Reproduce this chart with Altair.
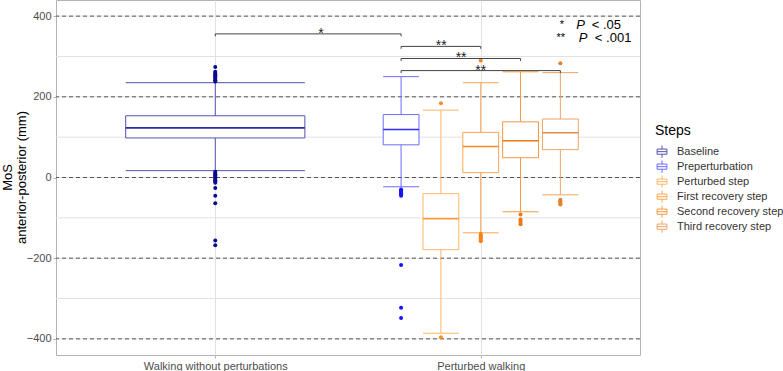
import altair as alt
import pandas as pd

# ---- data -------------------------------------------------------------
conditions = ["Walking without perturbations", "Perturbed walking"]
steps = ["Baseline", "Preperturbation", "Perturbed step",
         "First recovery step", "Second recovery step", "Third recovery step"]
step_condition = [0, 1, 1, 1, 1, 1]

whisker_low = [17, -23, -386, -137, -85, -43]
quart_1 = [98, 81, -179, 12, 49, 69]
medians = [123, 119, -102, 77, 91, 111]
quart_3 = [153, 156, -40, 112, 138, 145]
whisker_high = [235, 250, 167, 235, 262, 260]

outliers = {
    "Baseline": [274, 262, 259, 256, 253, 250, 247, 244, 241, 238,
                 14, 11, 8, 5, 2, -1, -4, -7, -10, -13, -26, -45, -64, -156, -168],
    "Preperturbation": [-30, -33, -36, -39, -42, -45, -217, -323, -348],
    "Perturbed step": [184, -396],
    "First recovery step": [290, -140, -143, -146, -149, -152, -155, -158],
    "Second recovery step": [-92, -104, -108, -113, -116],
    "Third recovery step": [283, -55, -58, -61, -64, -67],
}

sig_from = ["Baseline", "Preperturbation", "Preperturbation", "Preperturbation"]
sig_to = ["Preperturbation", "First recovery step", "Second recovery step", "Third recovery step"]
sig_level = [356, 325, 295, 265]
sig_text = ["*", "**", "**", "**"]
sig_text_pos = [1.398, 1.851, 1.926, 2.0]

key_stars = ["*", "**"]
key_rest = ["< .05", "< .001"]
key_level = [379, 346]

y_ticks = [-400, -200, 0, 200, 400]
y_minor = [-300, -100, 100, 300]

# ---- styles -----------------------------------------------------------
edge_colors = ["#5252b4", "#6b6bff", "#ffb566", "#ffa54f", "#f5993d", "#eea466"]
median_colors = ["#2a2aa3", "#2d2dff", "#ff9a3c", "#f58a26", "#e87c15", "#e48c45"]
point_colors = ["#0b0b8f", "#1414ff", "#ff8c1f", "#fb8216", "#f07812", "#e67e2a"]
FONT = "Liberation Sans"
DODGE = 0.75
BOX_FRAC = 0.9

# ---- layout of boxes within each condition ----------------------------
rows = []
centers = {}
for i, s in enumerate(steps):
    g = step_condition[i]
    members = [j for j in range(len(steps)) if step_condition[j] == g]
    n = len(members)
    k = members.index(i)
    c = g + 1 + (k - (n - 1) / 2) * DODGE / n
    half = BOX_FRAC * DODGE / n / 2
    centers[s] = c
    rows.append(dict(step=s, pos=c, left=c - half, right=c + half,
                     lo=whisker_low[i], q1=quart_1[i], med=medians[i],
                     q3=quart_3[i], hi=whisker_high[i]))
boxes = pd.DataFrame(rows)

pts = pd.DataFrame([dict(step=s, pos=centers[s], value=v)
                    for s in steps for v in outliers[s]])

sig = pd.DataFrame(dict(x1=[centers[a] for a in sig_from],
                        x2=[centers[b] for b in sig_to],
                        y=sig_level, label=sig_text, lx=sig_text_pos))
sig["ytick"] = sig["y"] - 6
sig_ends = pd.concat([sig[["x1", "y", "ytick"]].rename(columns={"x1": "x"}),
                      sig[["x2", "y", "ytick"]].rename(columns={"x2": "x"})])

key = pd.DataFrame(dict(star=key_stars, rest=key_rest, y=key_level,
                        xs=[2.314, 2.318], xp=[2.360, 2.369], xr=[2.418, 2.430]))

xscale = alt.Scale(domain=[0.4, 2.6], nice=False, zero=False)
yscale = alt.Scale(domain=[-440, 440], nice=False, zero=False)
label_expr = "datum.value == 1 ? '%s' : '%s'" % (conditions[0], conditions[1])
xaxis = alt.Axis(values=[1, 2], labelExpr=label_expr, title=None, grid=True,
                 gridColor="#e2e2e2", domain=False, tickColor="#b3b3b3",
                 tickSize=3, labelColor="#4d4d4d", labelFontSize=11,
                 labelFont=FONT, labelPadding=2)
yaxis = alt.Axis(values=y_ticks, title=["MoS", "anterior-posterior (mm)"],
                 grid=False, domain=False, tickColor="#b3b3b3", tickSize=3,
                 labelColor="#4d4d4d", labelFontSize=11, labelFont=FONT,
                 labelPadding=2, titleFont=FONT, titleFontSize=13,
                 titleFontWeight="normal", titleColor="#000000",
                 titleAngle=-90, titleX=-55, titleY=177, titleAlign="center",
                 titleBaseline="top", titleLineHeight=14)


def X(field):
    return alt.X(field, type="quantitative", scale=xscale, axis=xaxis)


def Y(field):
    return alt.Y(field, type="quantitative", scale=yscale, axis=yaxis)


grid_df = pd.DataFrame(dict(v=y_minor + y_ticks))
dash_df = pd.DataFrame(dict(v=y_ticks))

grid = alt.Chart(grid_df).mark_rule(color="#e2e2e2", strokeWidth=1).encode(
    y=Y("v"))
dashes = alt.Chart(dash_df).mark_rule(color="#555555", strokeWidth=1,
                                      strokeDash=[4, 3]).encode(y=Y("v"))

edge_scale = alt.Scale(domain=steps, range=edge_colors)
base = alt.Chart(boxes)

whisk_low = base.mark_rule(strokeWidth=1).encode(
    x=X("pos"), y=Y("lo"), y2="q1",
    stroke=alt.Stroke("step:N", scale=edge_scale, legend=None))
whisk_high = base.mark_rule(strokeWidth=1).encode(
    x=X("pos"), y=Y("q3"), y2="hi",
    stroke=alt.Stroke("step:N", scale=edge_scale, legend=None))
cap_low = base.mark_rule(strokeWidth=1).encode(
    x=X("left"), x2="right", y=Y("lo"),
    stroke=alt.Stroke("step:N", scale=edge_scale, legend=None))
cap_high = base.mark_rule(strokeWidth=1).encode(
    x=X("left"), x2="right", y=Y("hi"),
    stroke=alt.Stroke("step:N", scale=edge_scale, legend=None))

box_glyph = ("M-0.8,-0.42H0.8V0.42H-0.8Z M-0.8,0H0.8 "
             "M0,-0.42V-1 M0,0.42V1")
box = base.mark_bar(fill="white", strokeWidth=1).encode(
    x=X("left"), x2="right", y=Y("q1"), y2="q3",
    stroke=alt.Stroke("step:N", scale=edge_scale,
                      legend=alt.Legend(title="Steps", orient="none",
                                        legendX=599, legendY=124,
                                        symbolType=box_glyph, symbolSize=150,
                                        symbolStrokeWidth=1,
                                        symbolFillColor="white",
                                        titleFont=FONT, titleFontSize=14,
                                        titleFontWeight="normal",
                                        titleColor="#000000", titlePadding=7,
                                        labelFont=FONT, labelFontSize=11,
                                        labelColor="#333333", rowPadding=1,
                                        clipHeight=13.3, labelOffset=8)))
median = base.mark_rule(strokeWidth=1.6).encode(
    x=X("left"), x2="right", y=Y("med"),
    stroke=alt.Stroke("step:N", scale=alt.Scale(domain=steps, range=median_colors),
                      legend=None))

points = alt.Chart(pts).mark_circle(size=16, opacity=1).encode(
    x=X("pos"), y=Y("value"),
    fill=alt.Fill("step:N", scale=alt.Scale(domain=steps, range=point_colors),
                  legend=None))

brackets = alt.Chart(sig).mark_rule(color="#444444", strokeWidth=1).encode(
    x=X("x1"), x2="x2", y=Y("y"))
bracket_ends = alt.Chart(sig_ends).mark_rule(color="#444444", strokeWidth=1).encode(
    x=X("x"), y=Y("y"), y2="ytick")
stars = alt.Chart(sig).mark_text(font=FONT, fontSize=14, color="#222222",
                                 baseline="alphabetic", dy=4).encode(
    x=X("lx"), y=Y("y"), text="label:N")

key_s = alt.Chart(key).mark_text(font=FONT, fontSize=11, color="#000000",
                                 align="right", baseline="middle").encode(
    x=X("xs"), y=Y("y"), text="star:N")
key_p = alt.Chart(key).mark_text(font=FONT, fontSize=13, fontStyle="italic",
                                 color="#000000", align="left",
                                 baseline="middle").encode(
    x=X("xp"), y=Y("y"), text=alt.value("P"))
key_r = alt.Chart(key).mark_text(font=FONT, fontSize=13, color="#000000",
                                 align="left", baseline="middle").encode(
    x=X("xr"), y=Y("y"), text="rest:N")

chart = alt.layer(
    grid, dashes, whisk_low, whisk_high, box, median, cap_low, cap_high,
    points, brackets, bracket_ends, stars, key_s, key_p, key_r
).resolve_scale(stroke="independent", fill="independent").properties(
    width=584, height=355,
    autosize=alt.AutoSizeParams(type="none"),
    padding={"left": 56, "top": 0, "right": 143, "bottom": 16},
    background="white",
).configure_view(stroke="#b3b3b3", strokeWidth=1)

chart.save("out.html", embed_options={"renderer": "svg", "actions": False})
